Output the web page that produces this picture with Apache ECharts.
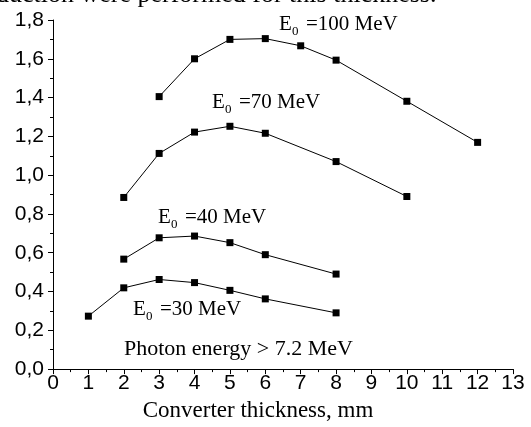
<!DOCTYPE html>
<html>
<head>
<meta charset="utf-8">
<script src="https://cdn.jsdelivr.net/npm/echarts@6/dist/echarts.min.js"></script>
<style>
  html, body { margin: 0; padding: 0; background: #fff; }
  #chart { width: 531px; height: 427px; }
</style>
</head>
<body>
<div id="chart"></div>
<script>
    // converter thickness, mm
    var x100 = [3, 4, 5, 6, 7, 8, 10, 12];
    var y100 = [1.405, 1.60, 1.70, 1.704, 1.667, 1.593, 1.381, 1.169];
    var x70 = [2, 3, 4, 5, 6, 8, 10];
    var y70 = [0.885, 1.112, 1.222, 1.252, 1.216, 1.070, 0.890];
    var x40 = [2, 3, 4, 5, 6, 8];
    var y40 = [0.567, 0.677, 0.686, 0.652, 0.590, 0.490];
    var x30 = [1, 2, 3, 4, 5, 6, 8];
    var y30 = [0.273, 0.419, 0.462, 0.446, 0.406, 0.362, 0.290];

    function pairs(xs, ys) {
        return xs.map(function (x, i) { return [x, ys[i]]; });
    }

    var serif = 'Liberation Serif';
    var sans = 'Liberation Sans';

    // "E0 =... MeV" with subscript 0
    function eLabel(left, top, rest) {
        var st = { fontFamily: serif, fontSize: 21, fill: '#000' };
        return {
            type: 'group', left: left, top: top,
            children: [
                { type: 'text', x: 0, y: 0, style: Object.assign({ text: 'E' }, st) },
                { type: 'text', x: 13, y: 11, style: { text: '0', fontFamily: serif, fontSize: 13, fill: '#000' } },
                { type: 'text', x: 27, y: 0, style: Object.assign({ text: '=' + rest }, st) }
            ]
        };
    }

    function mkSeries(name, xs, ys) {
        return {
            name: name, type: 'line', data: pairs(xs, ys),
            symbol: 'rect', symbolSize: 7,
            itemStyle: { color: '#000' },
            lineStyle: { color: '#000', width: 1 },
            animation: false
        };
    }

    var chart = echarts.init(document.getElementById('chart'));
    chart.setOption({
        animation: false,
        grid: { left: 53, right: 18, top: 20, bottom: 56 },
        xAxis: {
            type: 'value', min: 0, max: 13, interval: 1,
            name: 'Converter thickness, mm', nameLocation: 'middle', nameGap: 27,
            nameTextStyle: { fontFamily: serif, fontSize: 23, color: '#000', padding: [0, 50, 0, 0] },
            axisLine: { lineStyle: { color: '#000', width: 1 } },
            axisTick: { length: 5, lineStyle: { color: '#000' } },
            minorTick: { show: true, splitNumber: 2, length: 3, lineStyle: { color: '#000' } },
            axisLabel: { fontFamily: sans, fontSize: 21, color: '#000', margin: 4 },
            splitLine: { show: false }
        },
        yAxis: {
            type: 'value', min: 0, max: 1.8, interval: 0.2,
            axisLine: { show: true, lineStyle: { color: '#000', width: 1 } },
            axisTick: { show: true, length: 5, lineStyle: { color: '#000' } },
            minorTick: { show: true, splitNumber: 2, length: 3, lineStyle: { color: '#000' } },
            axisLabel: {
                fontFamily: sans, fontSize: 21, color: '#000', margin: 9,
                formatter: function (v) { return v.toFixed(1).replace('.', ','); }
            },
            splitLine: { show: false }
        },
        series: [
            mkSeries('100', x100, y100),
            mkSeries('70', x70, y70),
            mkSeries('40', x40, y40),
            mkSeries('30', x30, y30)
        ],
        graphic: [
            {
                type: 'text', left: -4, top: -18,
                style: { text: 'duction were performed for this thickness.', fontFamily: serif, fontSize: 26, fill: '#000' }
            },
            eLabel(279, 14, '100 MeV'),
            eLabel(212, 92, '70 MeV'),
            eLabel(158, 207, '40 MeV'),
            eLabel(133, 299, '30 MeV'),
            {
                type: 'text', left: 124, top: 338,
                style: { text: 'Photon energy > 7.2 MeV', fontFamily: serif, fontSize: 22, fill: '#000' }
            }
        ]
    });
</script>
</body>
</html>
